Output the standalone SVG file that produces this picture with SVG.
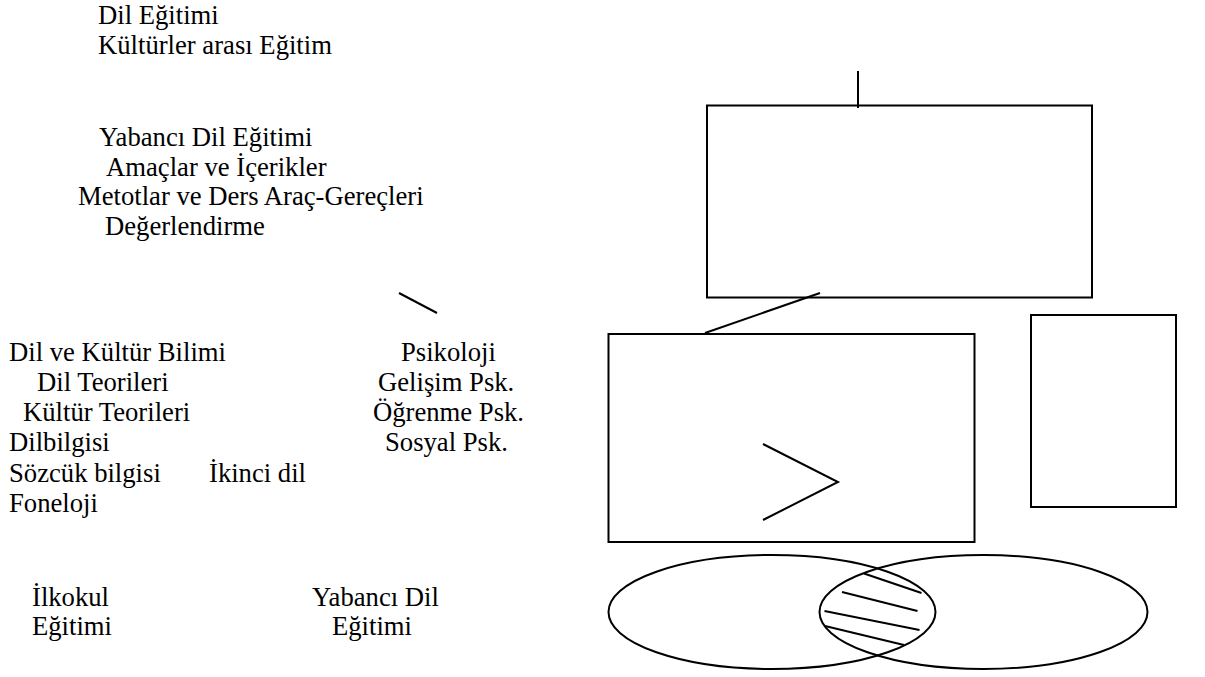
<svg xmlns="http://www.w3.org/2000/svg" width="1205" height="677" viewBox="0 0 1205 677">
<style>
text{font-family:"Liberation Serif","Times New Roman",serif;font-size:26.67px;fill:#000}
.s{fill:none;stroke:#000;stroke-width:2}
</style>
<rect width="1205" height="677" fill="#fff"/>
<g id="dil-egitimi">
<text x="98" y="24">Dil Eğitimi</text>
<text x="98" y="54">Kültürler arası Eğitim</text>
</g>
<g id="yabanci-dil-egitimi">
<text x="99" y="146">Yabancı Dil Eğitimi</text>
<text x="106" y="175.5">Amaçlar ve İçerikler</text>
<text x="78" y="205">Metotlar ve Ders Araç-Gereçleri</text>
<text x="105" y="235">Değerlendirme</text>
</g>
<g id="dil-kultur-bilimi">
<text x="9" y="361">Dil ve Kültür Bilimi</text>
<text x="37" y="391">Dil Teorileri</text>
<text x="23" y="421">Kültür Teorileri</text>
<text x="9" y="451">Dilbilgisi</text>
<text x="9" y="481.5">Sözcük bilgisi</text>
<text x="9" y="512">Foneloji</text>
</g>
<g id="ikinci-dil">
<text x="209" y="481.5">İkinci dil</text>
</g>
<g id="psikoloji">
<text x="401" y="361">Psikoloji</text>
<text x="378" y="391">Gelişim Psk.</text>
<text x="373" y="421">Öğrenme Psk.</text>
<text x="385" y="451">Sosyal Psk.</text>
</g>
<g id="ilkokul">
<text x="32" y="606">İlkokul</text>
<text x="32" y="635">Eğitimi</text>
</g>
<g id="yabanci-dil">
<text x="312" y="606">Yabancı Dil</text>
<text x="332" y="635">Eğitimi</text>
</g>
<g id="box-top"><rect class="s" x="707" y="105.5" width="385" height="192"/></g>
<g id="box-middle"><rect class="s" x="608.5" y="334" width="366" height="208"/>
<polyline class="s" points="763,444 838,482 763,520"/></g>
<g id="box-right"><rect class="s" x="1031" y="315" width="145" height="192"/></g>
<g id="venn">
<ellipse class="s" cx="772" cy="612" rx="163.5" ry="57"/>
<ellipse class="s" cx="983.5" cy="612" rx="164" ry="57"/>
<line class="s" x1="864" y1="573.5" x2="921.5" y2="593"/>
<line class="s" x1="842" y1="592" x2="917.5" y2="611"/>
<line class="s" x1="824.5" y1="611" x2="919.5" y2="630"/>
<line class="s" x1="825" y1="626" x2="904" y2="645"/>
</g>
<g id="connectors">
<line class="s" x1="858" y1="71" x2="858" y2="108"/>
<line class="s" x1="820" y1="293" x2="705" y2="333"/>
<line class="s" x1="399" y1="293" x2="437" y2="313"/>
</g>
</svg>
